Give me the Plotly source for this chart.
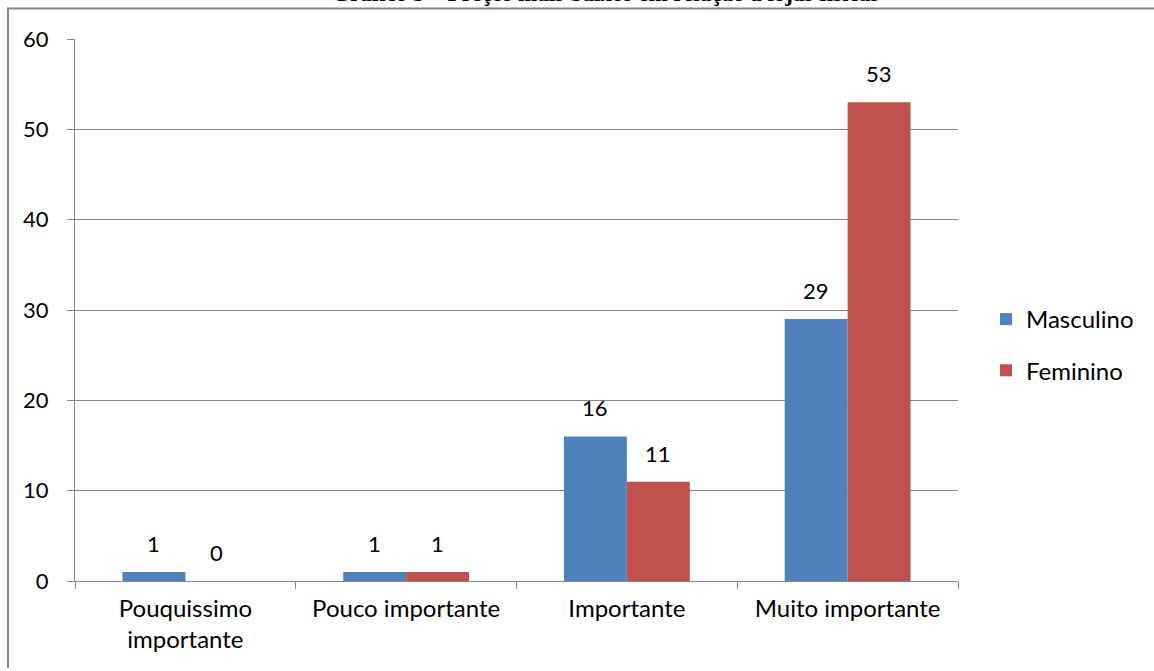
import plotly.graph_objects as go

# Respostas por grau de importância e sexo
categorias = ["Pouquissimo<br>importante", "Pouco importante", "Importante", "Muito importante"]
masculino = [1, 1, 16, 29]
feminino = [0, 1, 11, 53]
series = [("Masculino", masculino, "#4F81BD"), ("Feminino", feminino, "#C0504D")]

W, H = 1154, 668
L, R, T, B = 75, 196, 39, 87
plot_w = W - L - R
plot_h = H - T - B
BARGAP = 0.43
FONT = "Lato"
GRAY = "#868686"

fig = go.Figure()
for i, (nome, valores, cor) in enumerate(series):
    fig.add_trace(go.Bar(
        name=nome, x=categorias, y=valores,
        marker=dict(color=cor, line=dict(width=0)),
        legendgroup=nome,
    ))

# Rótulos de valor acima de cada barra
cat_w = plot_w / len(categorias)
bar_w = cat_w * (1 - BARGAP) / len(series)
for i, (nome, valores, cor) in enumerate(series):
    dx = (i - (len(series) - 1) / 2) * bar_w
    for c, v in zip(categorias, valores):
        fig.add_annotation(
            x=c, y=v, xref="x", yref="y", text=str(v), showarrow=False,
            xshift=dx, yshift=13, yanchor="bottom",
            font=dict(family=FONT, size=22, color="black"),
        )

def px_x(p):
    return (p - L) / plot_w

def px_y(p):
    return (H - B - p) / plot_h

# Título do gráfico (parcialmente fora da área)
fig.add_annotation(
    x=px_x(605), y=px_y(8), xref="paper", yref="paper",
    text="<b>Gráfico 5 – Preços mais baixos em relação a lojas físicas</b>",
    showarrow=False, yanchor="bottom", xanchor="center",
    font=dict(family="Liberation Serif", size=23, color="black"),
)

# Moldura cinza: borda superior e esquerda
fig.add_shape(type="line", xref="paper", yref="paper",
              x0=px_x(7), x1=px_x(W), y0=px_y(8.5), y1=px_y(8.5),
              line=dict(color=GRAY, width=2), layer="below")
fig.add_shape(type="line", xref="paper", yref="paper",
              x0=px_x(8), x1=px_x(8), y0=px_y(7.5), y1=px_y(H),
              line=dict(color=GRAY, width=2), layer="below")

fig.update_layout(
    width=W, height=H,
    margin=dict(l=L, r=R, t=T, b=B, pad=0),
    paper_bgcolor="white", plot_bgcolor="white",
    barmode="group", bargap=BARGAP, bargroupgap=0,
    font=dict(family=FONT, size=24, color="black"),
    showlegend=True,
    legend=dict(
        x=px_x(986), y=px_y(345), xanchor="left", yanchor="middle",
        font=dict(family=FONT, size=24, color="black"),
        tracegroupgap=17, bgcolor="rgba(0,0,0,0)",
    ),
    xaxis=dict(
        type="category", showgrid=False, showline=True, linecolor=GRAY, linewidth=1,
        ticks="outside", tickson="boundaries", ticklen=7, tickcolor=GRAY, tickwidth=1,
        ticklabelstandoff=6,
        tickfont=dict(family=FONT, size=24, color="black"),
        fixedrange=True,
    ),
    yaxis=dict(
        range=[0, 60], tick0=0, dtick=10, showgrid=True, gridcolor=GRAY, gridwidth=1,
        showline=True, linecolor=GRAY, linewidth=1, zeroline=False,
        ticks="outside", ticklen=7, tickcolor=GRAY, tickwidth=1,
        ticklabelstandoff=14,
        tickfont=dict(family=FONT, size=22, color="black"),
        fixedrange=True,
    ),
)

fig.write_html("out.html")
